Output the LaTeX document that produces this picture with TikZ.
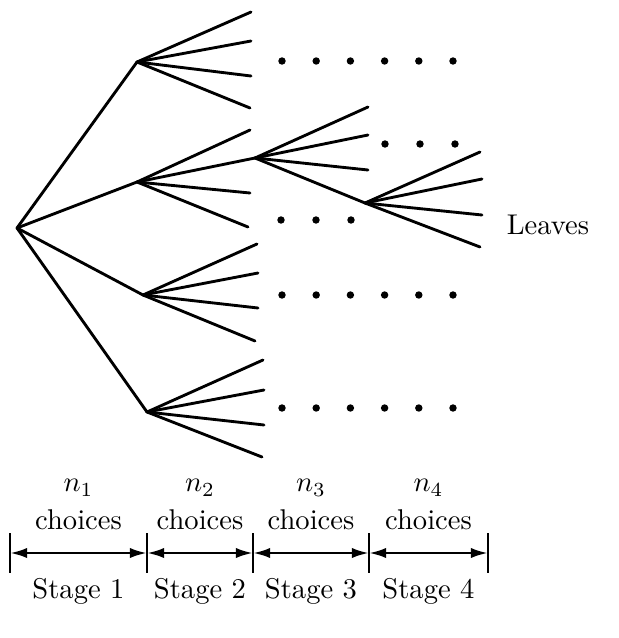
\documentclass[tikz,border=0pt]{standalone}
\usepackage{amsmath, amssymb}
\usetikzlibrary{positioning,arrows.meta}

\begin{document}
\begin{tikzpicture}[x=0.35pt, y=-0.35pt, >={Latex[length=6pt,width=3.6pt]},
    every node/.style={font=\normalsize},
    branch/.style={line width=1pt, line cap=round},
    gap/.style={circle, fill, inner sep=0pt, minimum size=2.6pt},
    ruler/.style={line width=0.9pt}]
  \useasboundingbox (0,0) rectangle (619,638);
  % stage 1
  \coordinate (root) at (17,228);
  \coordinate (a) at (137,62);
  \coordinate (b) at (137,182);
  \coordinate (c) at (143,295);
  \coordinate (d) at (147,412);
  % stage 2
  \coordinate (a1) at (251,12);  \coordinate (a2) at (251,41);
  \coordinate (a3) at (251,76);  \coordinate (a4) at (250,108);
  \coordinate (b1) at (250,130); \coordinate (b2) at (255,158);
  \coordinate (b3) at (250,193); \coordinate (b4) at (248,227);
  \coordinate (c1) at (257,244); \coordinate (c2) at (258,273);
  \coordinate (c3) at (258,308); \coordinate (c4) at (255,341);
  \coordinate (d1) at (263,360); \coordinate (d2) at (264,390);
  \coordinate (d3) at (264,425); \coordinate (d4) at (262,457);
  % stage 3
  \coordinate (b21) at (368,107); \coordinate (b22) at (368,135);
  \coordinate (b23) at (368,170); \coordinate (b24) at (365,203);
  % stage 4
  \coordinate (b241) at (480,152); \coordinate (b242) at (482,179);
  \coordinate (b243) at (482,215); \coordinate (b244) at (480,247);

  \foreach \p/\q in {root/a, root/b, root/c, root/d,
                     a/a1, a/a2, a/a3, a/a4, b/b1, b/b2, b/b3, b/b4,
                     c/c1, c/c2, c/c3, c/c4, d/d1, d/d2, d/d3, d/d4,
                     b2/b21, b2/b22, b2/b23, b2/b24,
                     b24/b241, b24/b242, b24/b243, b24/b244}
    \draw[branch] (\p) -- (\q);

  % dotted continuations
  \foreach \i in {0,...,5} {
    \node[gap] (ga\i) at ({282+34.2*\i},61) {};
    \node[gap] (gc\i) at ({282+34.2*\i},295) {};
    \node[gap] (gd\i) at ({282+34.2*\i},408) {};
  }
  \foreach \i in {0,1,2} {
    \node[gap] (gb\i) at ({281+35*\i},220) {};
    \node[gap] (gbb\i) at ({385+35*\i},144) {};
  }

  \node (leaves) at (548,225) {Leaves};

  % stages
  \coordinate (t0) at (10,553);
  \coordinate (t1) at (147,553);
  \coordinate (t2) at (253,553);
  \coordinate (t3) at (369,553);
  \coordinate (t4) at (488,553);
  \foreach \t in {t0,t1,t2,t3,t4}
    \draw[ruler] (\t) ++(0,-20) -- ++(0,40);
  \foreach \l/\r/\k in {t0/t1/1, t1/t2/2, t2/t3/3, t3/t4/4}
    \draw[<->, ruler] (\l) -- node[above=4.5pt, align=center]{$n_\k$\\[1pt]choices}
      node[below=5pt]{Stage \k} (\r);
\end{tikzpicture}
\end{document}
